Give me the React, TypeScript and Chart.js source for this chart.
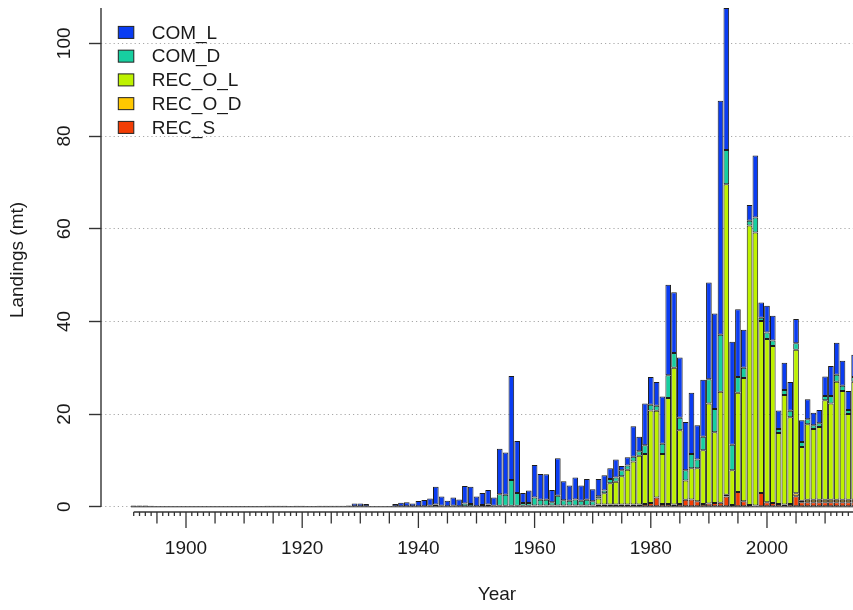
import React, { useEffect, useRef } from 'react';
import { Chart, registerables } from 'chart.js';

Chart.register(...registerables);

const FONT = "'Liberation Sans', Arial, Helvetica, sans-serif";
const TEXT_COLOR = '#1a1a1a';
const AXIS_COLOR = '#333333';

const FIRST_YEAR = 1891;

// Stack order from the top of each bar: COM_L, COM_D, REC_O_L, REC_O_D, REC_S
const COM_L = [
  0.3, 0.3, 0.3, 0.25, 0, 0, 0, 0, 0, 0,            // 1891-1900
  0, 0, 0, 0, 0, 0, 0, 0.15, 0.15, 0.15,            // 1901-1910
  0.15, 0.15, 0.15, 0.2, 0.25, 0.25, 0.2, 0.15, 0.2, 0.25, // 1911-1920
  0.15, 0.15, 0.2, 0.2, 0.2, 0.2, 0.2, 0.3, 0.7, 0.7, // 1921-1930
  0.6, 0.1, 0.1, 0.1, 0.15, 0.6, 0.9, 1.0, 0.7, 1.25, // 1931-1940
  1.45, 1.6, 3.85, 2.0, 1.3, 1.8, 1.6, 3.8, 3.75, 2.2, // 1941-1950
  2.6, 3.1, 1.8, 9.8, 9.1, 22.4, 11.2, 2.2, 2.7, 7.0, // 1951-1960
  5.6, 5.5, 2.6, 8.1, 4.1, 3.3, 4.7, 3.3, 4.5, 2.6,   // 1961-1970
  3.7, 3.3, 2.3, 3.9, 0.9, 1.8, 6.6, 3.1, 9.0, 6.0,   // 1971-1980
  5.1, 10.2, 19.5, 13.1, 13.0, 10.4, 13.2, 7.4, 12.3, 20.9, // 1981-1990
  20.6, 50.5, 30.6, 22.2, 14.6, 8.2, 3.4, 13.4, 3.3, 5.8,   // 1991-2000
  5.3, 4.0, 5.9, 6.2, 5.2, 4.7, 4.3, 2.7, 2.9, 4.2,   // 2001-2010
  6.5, 6.9, 5.4, 4.1, 4.8,                            // 2011-2015
];

const COM_D = [
  0, 0, 0, 0, 0, 0, 0, 0, 0, 0,                     // 1891-1900
  0, 0, 0, 0, 0, 0, 0, 0, 0, 0,                     // 1901-1910
  0, 0, 0, 0, 0, 0, 0, 0, 0, 0,                     // 1911-1920
  0, 0, 0, 0, 0, 0, 0, 0, 0, 0,                     // 1921-1930
  0, 0, 0, 0, 0, 0, 0, 0, 0, 0,                     // 1931-1940
  0, 0.2, 0.5, 0.2, 0, 0.2, 0, 0.7, 0.6, 0,         // 1941-1950
  0.4, 0.5, 0.2, 2.5, 2.4, 5.6, 2.8, 0.6, 0.6, 1.7, // 1951-1960
  1.2, 1.2, 0.7, 2.1, 1.1, 1.0, 1.3, 1.0, 1.2, 0.9, // 1961-1970
  0.5, 0.6, 0.9, 0.9, 1.3, 0.9, 1.0, 1.0, 1.9, 1.2, // 1971-1980
  1.1, 2.2, 4.9, 3.2, 2.7, 2.2, 3.1, 1.9, 2.9, 5.2, // 1981-1990
  5.0, 12.3, 7.4, 5.5, 3.4, 2.2, 1.0, 3.2, 0.7, 1.4, // 1991-2000
  1.2, 0.9, 1.1, 1.4, 1.4, 1.1, 1.1, 0.8, 0.8, 0.9, // 2001-2010
  1.6, 1.5, 1.1, 0.9, 1.0,                          // 2011-2015
];

const REC_O_L = [
  0, 0, 0, 0, 0, 0, 0, 0, 0, 0,                     // 1891-1900
  0, 0, 0, 0, 0, 0, 0, 0, 0, 0,                     // 1901-1910
  0, 0, 0, 0, 0, 0, 0, 0, 0, 0,                     // 1911-1920
  0, 0, 0, 0, 0, 0, 0, 0, 0, 0,                     // 1921-1930
  0, 0, 0, 0, 0, 0, 0, 0, 0, 0,                     // 1931-1940
  0, 0, 0, 0, 0, 0, 0, 0, 0, 0,                     // 1941-1950
  0, 0, 0, 0, 0, 0, 0, 0, 0, 0,                     // 1951-1960
  0, 0, 0, 0, 0, 0, 0, 0, 0, 0,                     // 1961-1970
  1.3, 2.4, 4.6, 4.9, 6.1, 7.5, 9.3, 10.5, 10.8, 20.0, // 1971-1980
  18.7, 10.8, 22.9, 29.5, 15.9, 4.2, 6.7, 7.1, 11.6, 21.6, // 1981-1990
  15.3, 23.9, 67.0, 7.5, 21.4, 26.6, 60.3, 58.9, 37.1, 35.2, // 1991-2000
  33.9, 15.3, 23.6, 18.7, 31.0, 11.6, 16.3, 15.3, 15.7, 21.5, // 2001-2010
  20.8, 25.5, 23.5, 18.5, 25.5,                     // 2011-2015
];

const REC_O_D = [
  0, 0, 0, 0, 0, 0, 0, 0, 0, 0,                     // 1891-1900
  0, 0, 0, 0, 0, 0, 0, 0, 0, 0,                     // 1901-1910
  0, 0, 0, 0, 0, 0, 0, 0, 0, 0,                     // 1911-1920
  0, 0, 0, 0, 0, 0, 0, 0, 0, 0,                     // 1921-1930
  0, 0, 0, 0, 0, 0, 0, 0, 0, 0,                     // 1931-1940
  0, 0, 0, 0, 0, 0, 0, 0, 0, 0,                     // 1941-1950
  0, 0, 0, 0, 0, 0, 0, 0, 0, 0,                     // 1951-1960
  0, 0, 0, 0, 0, 0, 0, 0, 0, 0,                     // 1961-1970
  0, 0, 0, 0, 0, 0, 0, 0, 0, 0,                     // 1971-1980
  0, 0, 0, 0, 0, 0, 0, 0, 0, 0,                     // 1981-1990
  0, 0, 0.4, 0, 0, 0, 0, 0, 0, 0,                   // 1991-2000
  0, 0, 0, 0, 0.6, 0.3, 0.5, 0.5, 0.5, 0.5,         // 2001-2010
  0.5, 0.5, 0.5, 0.5, 0.5,                          // 2011-2015
];

const REC_S = [
  0, 0, 0, 0, 0, 0, 0, 0, 0, 0,                     // 1891-1900
  0, 0, 0, 0, 0, 0, 0, 0, 0, 0,                     // 1901-1910
  0, 0, 0, 0, 0, 0, 0, 0, 0, 0,                     // 1911-1920
  0, 0, 0, 0, 0, 0, 0, 0, 0, 0,                     // 1921-1930
  0, 0, 0, 0, 0, 0, 0, 0, 0, 0,                     // 1931-1940
  0, 0, 0, 0, 0, 0, 0, 0, 0, 0,                     // 1941-1950
  0, 0, 0, 0.2, 0.2, 0.2, 0.2, 0.2, 0.2, 0.3,       // 1951-1960
  0.3, 0.3, 0.3, 0.3, 0.3, 0.3, 0.3, 0.3, 0.3, 0.3, // 1961-1970
  0.5, 0.5, 0.5, 0.5, 0.5, 0.5, 0.5, 0.5, 0.6, 0.8, // 1971-1980
  2.0, 0.6, 0.6, 0.5, 0.6, 1.5, 1.6, 1.2, 0.6, 0.7, // 1981-1990
  0.8, 0.9, 2.2, 0.4, 3.2, 1.2, 0.4, 0.3, 3.0, 1.0, // 1991-2000
  0.8, 0.6, 0.5, 0.6, 2.3, 1.0, 1.0, 1.0, 1.0, 1.0, // 2001-2010
  1.0, 1.0, 1.0, 1.0, 1.0,                          // 2011-2015
];

const YEARS = COM_L.map((_, i) => FIRST_YEAR + i);

const SERIES_NAMES = ['COM_L', 'COM_D', 'REC_O_L', 'REC_O_D', 'REC_S'];
const SERIES_VALUES: Record<string, number[]> = { COM_L, COM_D, REC_O_L, REC_O_D, REC_S };
const SERIES_COLORS: Record<string, string> = {
  COM_L: '#0A3CF2',
  COM_D: '#17CFA0',
  REC_O_L: '#BEF200',
  REC_O_D: '#FFC800',
  REC_S: '#F23D05',
};

const X_TICK_LABELS = [1900, 1920, 1940, 1960, 1980, 2000];
const Y_TICK_LABELS = [0, 20, 40, 60, 80, 100];
const X_MIN = 1885.37;
const X_MAX = 2021.69;
const Y_MIN = -1.122;
const Y_MAX = 107.62;

const rAxesPlugin = {
  id: 'rAxes',
  beforeDatasetsDraw(chart: any) {
    const { ctx, chartArea, scales } = chart;
    const x = scales.x;
    const y = scales.y;
    const half = (x.getPixelForValue(FIRST_YEAR + 1) - x.getPixelForValue(FIRST_YEAR)) * 0.48;
    ctx.save();
    ctx.strokeStyle = '#2a2a2a';
    ctx.lineWidth = 1;
    const y0 = y.getPixelForValue(0);
    ctx.beginPath();
    ctx.moveTo(x.getPixelForValue(YEARS[0]) - half, y0);
    ctx.lineTo(Math.min(chartArea.right, x.getPixelForValue(YEARS[YEARS.length - 1]) + half), y0);
    ctx.stroke();
    ctx.restore();
  },
  afterDraw(chart: any) {
    const { ctx, chartArea, scales } = chart;
    const x = scales.x;
    const y = scales.y;
    ctx.save();
    ctx.strokeStyle = AXIS_COLOR;
    ctx.lineWidth = 1.4;
    // y axis line
    ctx.beginPath();
    ctx.moveTo(chartArea.left, y.getPixelForValue(0));
    ctx.lineTo(chartArea.left, y.getPixelForValue(Y_MAX));
    ctx.stroke();
    // x axis line
    const yb = chartArea.bottom;
    ctx.beginPath();
    ctx.moveTo(x.getPixelForValue(YEARS[0]), yb);
    ctx.lineTo(chartArea.right, yb);
    ctx.stroke();
    // x tick marks: yearly, every 5 years, labelled every 20 years
    ctx.lineWidth = 1.3;
    for (let yr = YEARS[0]; yr <= Math.floor(x.max); yr++) {
      const px = x.getPixelForValue(yr);
      const len = yr % 20 === 0 ? 16 : yr % 5 === 0 ? 11.5 : 4;
      ctx.beginPath();
      ctx.moveTo(px, yb);
      ctx.lineTo(px, yb + len);
      ctx.stroke();
    }
    // legend (inset, top-left)
    ctx.font = `19px ${FONT}`;
    ctx.textBaseline = 'middle';
    ctx.textAlign = 'left';
    SERIES_NAMES.forEach((name, i) => {
      const cy = chartArea.top + 24.4 + i * 23.75;
      const bx = chartArea.left + 17.3;
      ctx.fillStyle = SERIES_COLORS[name];
      ctx.fillRect(bx, cy - 6, 15.5, 12);
      ctx.strokeStyle = '#222';
      ctx.lineWidth = 1;
      ctx.strokeRect(bx, cy - 6, 15.5, 12);
      ctx.fillStyle = TEXT_COLOR;
      ctx.fillText(name, chartArea.left + 50.7, cy + 1);
    });
    ctx.restore();
  },
};

export default function App() {
  const canvasRef = useRef<HTMLCanvasElement | null>(null);

  useEffect(() => {
    const canvas = canvasRef.current;
    if (!canvas) return;
    Chart.defaults.font.family = FONT;

    const stackOrder = ['REC_S', 'REC_O_D', 'REC_O_L', 'COM_D', 'COM_L'];
    const datasets = stackOrder.map((name) => ({
      label: name,
      data: SERIES_VALUES[name],
      backgroundColor: SERIES_COLORS[name],
      borderColor: '#1c1c1c',
      borderWidth: 1,
      borderSkipped: false as const,
      categoryPercentage: 1.0,
      barPercentage: 0.97,
    }));

    const chart = new Chart(canvas, {
      type: 'bar',
      data: { labels: YEARS, datasets },
      plugins: [rAxesPlugin],
      options: {
        animation: false,
        responsive: false,
        devicePixelRatio: 1,
        layout: { padding: { top: 8, left: 0, right: 0, bottom: 0 } },
        plugins: {
          legend: { display: false },
          tooltip: { enabled: false },
        },
        scales: {
          x: {
            type: 'linear',
            stacked: true,
            offset: false,
            min: X_MIN,
            max: X_MAX,
            afterBuildTicks: (scale: any) => {
              scale.ticks = X_TICK_LABELS.map((v) => ({ value: v }));
            },
            afterFit: (scale: any) => {
              scale.height = 98;
              scale.paddingLeft = 0;
              scale.paddingRight = 0;
            },
            grid: { display: true, drawOnChartArea: false, drawTicks: false, offset: false },
            border: { display: false },
            ticks: {
              autoSkip: false,
              maxRotation: 0,
              minRotation: 0,
              padding: 25.6,
              color: TEXT_COLOR,
              font: { size: 19, family: FONT },
              callback: (v: any) => String(v),
            },
            title: {
              display: true,
              text: 'Year',
              color: TEXT_COLOR,
              font: { size: 19, family: FONT },
              padding: { top: 0, bottom: 3.6 },
            },
          },
          y: {
            type: 'linear',
            stacked: true,
            min: Y_MIN,
            max: Y_MAX,
            afterBuildTicks: (scale: any) => {
              scale.ticks = Y_TICK_LABELS.map((v) => ({ value: v }));
            },
            afterFit: (scale: any) => {
              scale.width = 101;
              scale.paddingTop = 0;
              scale.paddingBottom = 0;
            },
            grid: {
              display: true,
              drawOnChartArea: true,
              drawTicks: true,
              tickLength: 12,
              tickColor: AXIS_COLOR,
              tickWidth: 1.4,
              color: '#a8a8a8',
              lineWidth: 1,
            },
            border: { display: false, dash: [1.2, 3] },
            ticks: {
              autoSkip: false,
              minRotation: 90,
              maxRotation: 90,
              crossAlign: 'center',
              padding: 8.2,
              color: TEXT_COLOR,
              font: { size: 19, family: FONT },
              callback: (v: any) => String(v),
            },
            title: {
              display: true,
              text: 'Landings (mt)',
              color: TEXT_COLOR,
              font: { size: 19, family: FONT },
              padding: { top: 6.6, bottom: 0 },
            },
          },
        },
      } as any,
    });

    return () => chart.destroy();
  }, []);

  return (
    <div
      style={{
        position: 'fixed',
        left: 0,
        top: 0,
        width: 853,
        height: 610,
        overflow: 'hidden',
        background: '#ffffff',
      }}
    >
      <canvas ref={canvasRef} width={893} height={610} style={{ width: 893, height: 610, display: 'block' }} />
    </div>
  );
}
